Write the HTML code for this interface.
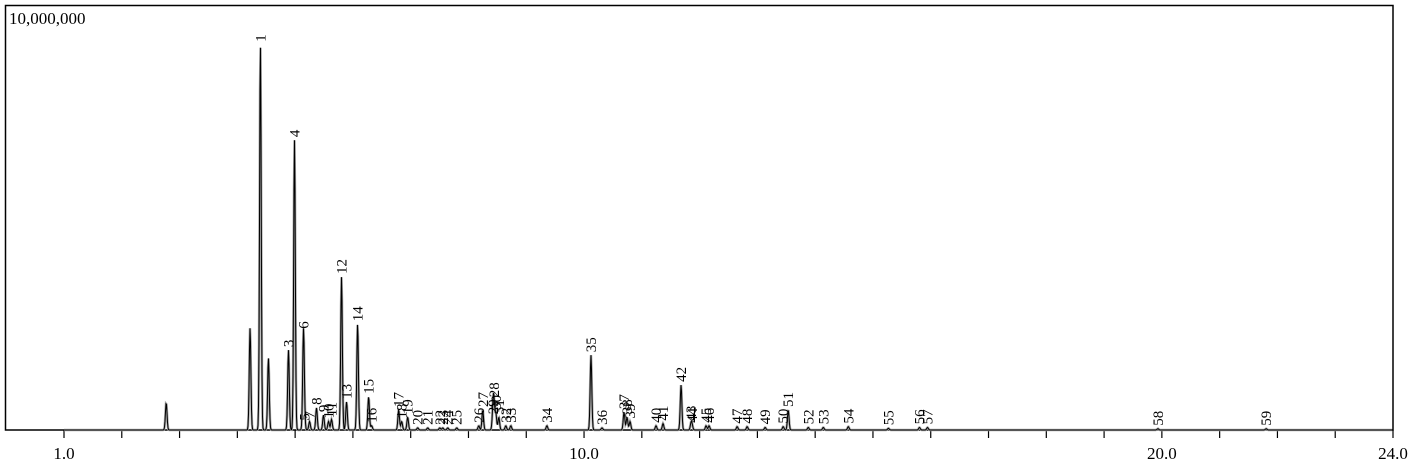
<!DOCTYPE html>
<html><head><meta charset="utf-8"><style>
html,body{margin:0;padding:0;background:#fff;}
svg{display:block;font-family:"Liberation Serif",serif;}
</style></head><body>
<svg id="chart" width="1417" height="464" viewBox="0 0 1417 464" xmlns="http://www.w3.org/2000/svg">
<rect x="5.5" y="5.5" width="1387.5" height="424.5" fill="#fff" stroke="#000" stroke-width="1.5"/>
<text x="9" y="24" font-size="17">10,000,000</text>
<g id="ticks"></g>
<g id="traces"></g>
<g id="labels"></g>
</svg>
<script>
const peakLabels = ["","","1","","3","4","6","5","7","8","9","10","11","12","13","14","15","16","17","18","19","20","21","22","23","24","25","26","27","28","29","30","31","32","33","34","35","36","37","38","39","40","41","42","43","44","45","46","47","48","49","50","51","52","53","54","55","56","57","58","59"];
const peakTimes = [2.769,4.220,4.399,4.538,4.885,4.989,5.145,5.16,5.25,5.370,5.491,5.578,5.630,5.803,5.890,6.081,6.272,6.324,6.792,6.844,6.948,7.121,7.295,7.503,7.555,7.641,7.797,8.178,8.247,8.438,8.421,8.473,8.525,8.646,8.733,9.357,10.120,10.311,10.692,10.744,10.796,11.246,11.367,11.679,11.852,11.870,12.112,12.164,12.650,12.823,13.135,13.447,13.534,13.881,14.141,14.574,15.268,15.805,15.944,19.932,21.805];
const peakHeights = [0.64,2.4,9.06,1.69,1.88,6.82,2.31,0.15,0.2,0.52,0.35,0.2,0.25,3.6,0.66,2.49,0.78,0.1,0.47,0.2,0.3,0.05,0.05,0.05,0.05,0.05,0.05,0.1,0.47,0.7,0.3,0.4,0.3,0.1,0.1,0.1,1.76,0.05,0.42,0.3,0.2,0.1,0.15,1.06,0.15,0.1,0.1,0.1,0.08,0.08,0.06,0.08,0.47,0.06,0.06,0.08,0.04,0.06,0.06,0.03,0.03];
const xTickValues = [1,2,3,4,5,6,7,8,9,10,11,12,13,14,15,16,17,18,19,20,21,22,23,24];
const xTickLabels = ["1.0","10.0","20.0","24.0"];

const NS="http://www.w3.org/2000/svg";
const X0=64, PXU=(1393-64)/23, YB=430, YT=5, YMAX=10;
const xs=t=>X0+(t-1)*PXU;
const ys=v=>YB-v/YMAX*(YB-YT);

const tg=document.getElementById('ticks');
xTickValues.forEach(v=>{
  const l=document.createElementNS(NS,'line');
  
  
  l.setAttribute('x1',xs(v));l.setAttribute('x2',xs(v));
  l.setAttribute('y1',YB);l.setAttribute('y2',YB+8);
  l.setAttribute('stroke','#000');l.setAttribute('stroke-width','1.2');
  tg.appendChild(l);
});
xTickLabels.forEach(s=>{
  const t=document.createElementNS(NS,'text');
  
  
  t.setAttribute('x',xs(parseFloat(s)));t.setAttribute('y',459);
  t.setAttribute('text-anchor','middle');t.setAttribute('font-size','17');
  t.textContent=s;tg.appendChild(t);
});

const sig=0.014;
let d='';
for(let x=X0;x<=1392;x+=0.5){
  const t=1+(x-X0)/PXU;
  let v=0;
  for(let i=0;i<peakTimes.length;i++){const z=(t-peakTimes[i])/sig;if(Math.abs(z)<6)v+=peakHeights[i]*Math.exp(-0.5*z*z);}
  d+=(d?'L':'M')+x.toFixed(1)+' '+ys(v).toFixed(1);
}
const trg=document.getElementById('traces');
const g=document.createElementNS(NS,'path');


g.setAttribute('d',d);g.setAttribute('fill','none');g.setAttribute('stroke','#aaa');g.setAttribute('stroke-width','2.5');
trg.appendChild(g);
const p=document.createElementNS(NS,'path');


p.setAttribute('d',d);p.setAttribute('fill','none');p.setAttribute('stroke','#000');p.setAttribute('stroke-width','1');
trg.appendChild(p);

const lg=document.getElementById('labels');
peakLabels.forEach((s,i)=>{
  if(!s)return;
  const x=xs(peakTimes[i]);
  const yb=Math.min(ys(peakHeights[i])-3,428);
  const t=document.createElementNS(NS,'text');
  
  
  t.setAttribute('font-size','15');
  t.setAttribute('transform','translate('+(x+5).toFixed(1)+','+yb.toFixed(1)+') rotate(-90)');
  t.textContent=s;lg.appendChild(t);
});
</script>
</body></html>
